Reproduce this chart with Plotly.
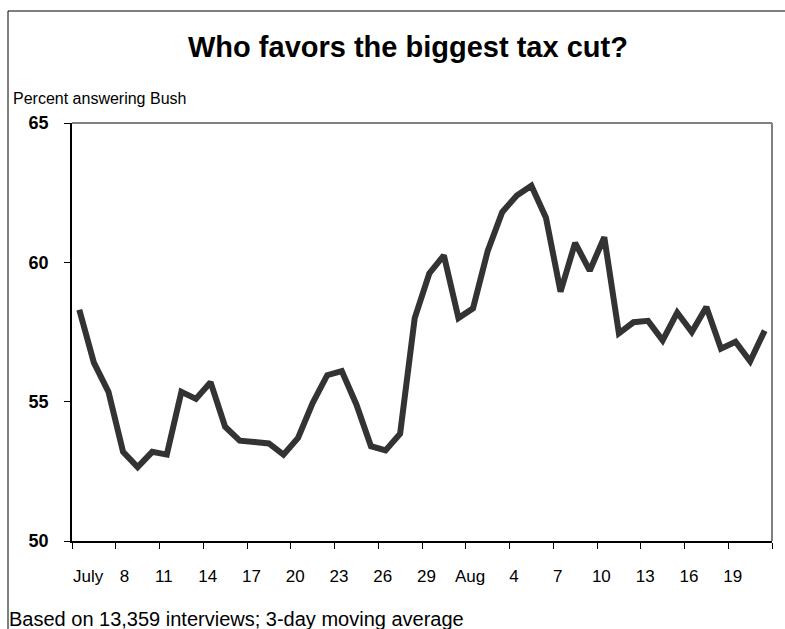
import plotly.graph_objects as go

# Daily 3-day moving average, July 5 through August 21
days = list(range(48))
pct_bush = [
    58.3, 56.4, 55.35, 53.2, 52.65, 53.2, 53.1, 55.35, 55.1, 55.7,
    54.1, 53.6, 53.55, 53.5, 53.1, 53.7, 54.95, 55.95, 56.1, 54.9,
    53.4, 53.25, 53.85, 58.0, 59.6, 60.25, 58.0, 58.35, 60.4, 61.8,
    62.4, 62.75, 61.6, 58.95, 60.7, 59.7, 60.9, 57.45, 57.85, 57.9,
    57.2, 58.2, 57.5, 58.4, 56.9, 57.15, 56.45, 57.55,
]
tick_labels = ["July", "8", "11", "14", "17", "20", "23", "26", "29",
               "Aug", "4", "7", "10", "13", "16", "19"]
boundaries = [d - 0.5 for d in days[::3]] + [days[-1] + 0.5]

W, H = 785, 629
ML, MR, MT, MB = 72, 13, 123, 88
PW, PH = W - ML - MR, H - MT - MB

def px(x):
    return (x - ML) / PW

def py(y):
    return (H - MB - y) / PH

# labels sit just right of the 3-day tick marks; the first two are nudged
# further right so they clear the value axis
label_pos = [b + 0.3 for b in boundaries[:len(tick_labels)]]
label_pos[0] = 0.6
label_pos[1] = 3.1

FONT = "Arial, Liberation Sans, sans-serif"

fig = go.Figure()
fig.add_trace(go.Scatter(
    x=days, y=pct_bush, mode="lines",
    line=dict(color="#333333", width=6),
    hoverinfo="skip", showlegend=False,
))

fig.update_layout(
    width=W, height=H,
    margin=dict(l=ML, r=MR, t=MT, b=MB, pad=0),
    paper_bgcolor="white", plot_bgcolor="white",
    font=dict(family=FONT, size=16, color="black"),
    xaxis=dict(
        range=[-0.5, days[-1] + 0.5],
        tickvals=label_pos, ticktext=tick_labels,
        ticks="", showgrid=False, zeroline=False,
        showline=True, linecolor="black", linewidth=1.5,
        tickfont=dict(size=17, family=FONT),
        ticklabelstandoff=19,
        minor=dict(tickvals=boundaries, ticks="outside", ticklen=6,
                   tickwidth=1, tickcolor="black", showgrid=False),
    ),
    yaxis=dict(
        range=[50, 65], tickvals=[50, 55, 60, 65],
        ticks="outside", ticklen=6, tickwidth=1, tickcolor="black",
        showgrid=False, zeroline=False,
        showline=True, linecolor="black", linewidth=1.5,
        tickfont=dict(size=18, family=FONT, weight="bold"),
        ticklabelstandoff=12,
    ),
    shapes=[
        # grey top and right edges of the plotting area
        dict(type="line", xref="paper", yref="paper", x0=0, x1=1, y0=1, y1=1,
             line=dict(color="#808080", width=2)),
        dict(type="line", xref="paper", yref="paper", x0=1, x1=1, y0=0, y1=1,
             line=dict(color="#808080", width=2)),
        # outer frame of the chart
        dict(type="line", xref="paper", yref="paper",
             x0=px(8), x1=px(8), y0=py(11), y1=py(H + 5),
             line=dict(color="black", width=1)),
        dict(type="line", xref="paper", yref="paper",
             x0=px(8), x1=px(W + 5), y0=py(11), y1=py(11),
             line=dict(color="black", width=1)),
    ],
    annotations=[
        dict(text="<b>Who favors the biggest tax cut?</b>", xref="paper", yref="paper",
             x=px(408), y=py(47), xanchor="center", yanchor="middle",
             showarrow=False, font=dict(size=29, family=FONT)),
        dict(text="Percent answering Bush", xref="paper", yref="paper",
             x=px(11), y=py(98), xanchor="left", yanchor="middle",
             showarrow=False, font=dict(size=16, family=FONT)),
        dict(text="Based on 13,359 interviews; 3-day moving average",
             xref="paper", yref="paper",
             x=px(7), y=py(619), xanchor="left", yanchor="middle",
             showarrow=False, font=dict(size=20, family=FONT)),
    ],
)

fig.write_html("out.html")
